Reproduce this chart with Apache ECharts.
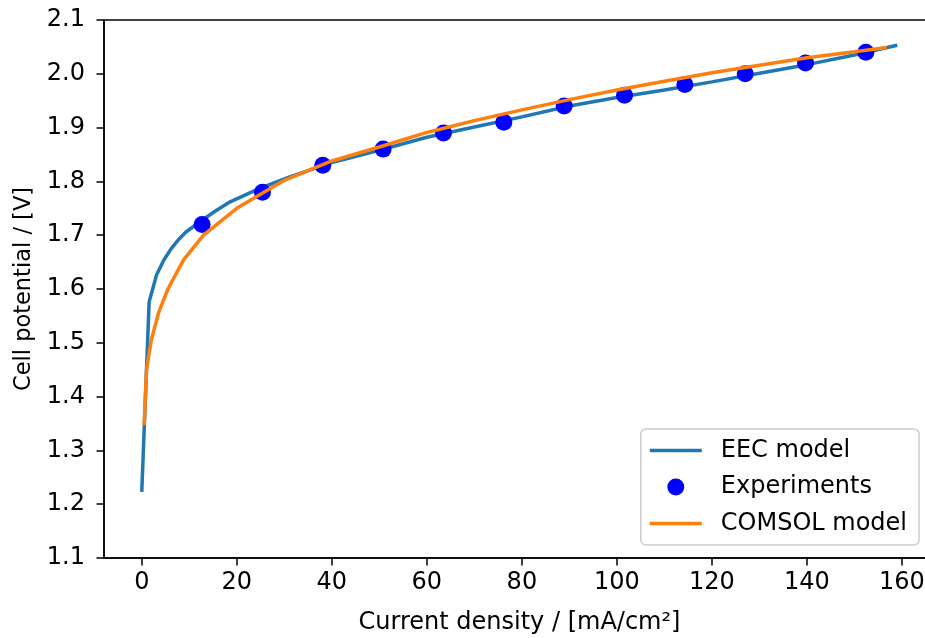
<!DOCTYPE html>
<html>
<head>
<meta charset="utf-8">
<script src="https://cdn.jsdelivr.net/npm/echarts@6/dist/echarts.min.js"></script>
<style>
html,body{margin:0;padding:0;background:#fff;}
#chart{width:925px;height:638px;}
</style>
</head>
<body>
<div id="chart"></div>
<script>
// EEC model curve
var eecX = [0, 1.55, 3.1, 4.65, 6.2, 7.75, 9.3, 12.4, 15.5, 18.6, 24.8, 31, 40, 50, 60, 70, 80, 90, 100, 110, 120, 130, 140, 150, 159];
var eecY = [1.223, 1.576, 1.626, 1.654, 1.675, 1.692, 1.706, 1.726, 1.745, 1.762, 1.787, 1.808, 1.835, 1.858, 1.882, 1.901, 1.920, 1.940, 1.956, 1.970, 1.985, 2.001, 2.017, 2.035, 2.053];
// Experiments
var expX = [12.7, 25.4, 38.1, 50.8, 63.5, 76.2, 88.9, 101.6, 114.3, 127, 139.7, 152.4];
var expY = [1.72, 1.78, 1.83, 1.86, 1.89, 1.91, 1.94, 1.96, 1.98, 2.00, 2.02, 2.04];
// COMSOL model curve
var comsolX = [0.5, 1.0, 2, 3.5, 5.5, 8.8, 13, 20, 30, 40, 50, 60, 70, 80, 90, 100, 110, 120, 130, 140, 150, 156.8];
var comsolY = [1.347, 1.45, 1.505, 1.555, 1.600, 1.654, 1.700, 1.750, 1.802, 1.838, 1.864, 1.891, 1.913, 1.933, 1.952, 1.970, 1.986, 2.002, 2.016, 2.030, 2.041, 2.049];
// tick labels
var xTicks = [0, 20, 40, 60, 80, 100, 120, 140, 160];
var yTicks = [1.1, 1.2, 1.3, 1.4, 1.5, 1.6, 1.7, 1.8, 1.9, 2.0, 2.1];

function pairs(xs, ys) { return xs.map(function (x, i) { return [x, ys[i]]; }); }

var FONT = 'DejaVu Sans';
var LINE_ICON = 'path://M0,0 L52,0 L52,3.5 L0,3.5 Z';
var chart = echarts.init(document.getElementById('chart'), null, {renderer: 'canvas'});
chart.setOption({
  animation: false,
  backgroundColor: '#ffffff',
  grid: {
    left: 104, top: 20, width: 831, height: 538,
    outerBoundsMode: 'none', containLabel: false,
    show: true, borderColor: '#000', borderWidth: 1.5, backgroundColor: 'transparent'
  },
  xAxis: {
    type: 'value', min: -7.95, max: 166.95,
    name: 'Current density / [mA/cm²]', nameLocation: 'middle', nameGap: 53,
    nameTextStyle: {fontFamily: FONT, fontSize: 24, color: '#000'},
    axisLine: {show: true, onZero: false, lineStyle: {color: '#000', width: 1.5}},
    axisTick: {show: true, length: 7.5, lineStyle: {color: '#000', width: 1.5}, customValues: xTicks},
    axisLabel: {fontFamily: FONT, fontSize: 24, color: '#000', margin: 13, customValues: xTicks,
      formatter: function (v) { return String(Math.round(v)); }},
    splitLine: {show: false}
  },
  yAxis: {
    type: 'value', min: 1.1, max: 2.1,
    name: 'Cell potential / [V]', nameLocation: 'middle', nameGap: 68,
    nameTextStyle: {fontFamily: FONT, fontSize: 22.5, color: '#000'},
    axisLine: {show: true, onZero: false, lineStyle: {color: '#000', width: 1.5}},
    axisTick: {show: true, length: 7.5, lineStyle: {color: '#000', width: 1.5}, customValues: yTicks},
    axisLabel: {fontFamily: FONT, fontSize: 24, color: '#000', margin: 19, customValues: yTicks,
      formatter: function (v) { return v.toFixed(1); }},
    splitLine: {show: false}
  },
  legend: {
    orient: 'vertical', right: 6, bottom: 93,
    data: [
      {name: 'EEC model', icon: LINE_ICON},
      {name: 'Experiments', icon: 'circle'},
      {name: 'COMSOL model', icon: LINE_ICON}
    ],
    itemWidth: 52, itemHeight: 17, itemGap: 12.5,
    padding: [9.5, 12, 9.5, 9],
    backgroundColor: 'rgba(255,255,255,0.8)',
    borderColor: '#cccccc', borderWidth: 1.5, borderRadius: 5,
    textStyle: {fontFamily: FONT, fontSize: 24, color: '#000', lineHeight: 24, padding: [0, 0, 0, 14]}
  },
  series: [
    {
      name: 'EEC model', type: 'line', data: pairs(eecX, eecY), z: 2,
      symbol: 'none', smooth: false,
      lineStyle: {color: '#1f77b4', width: 3.5}, itemStyle: {color: '#1f77b4'}
    },
    {
      name: 'Experiments', type: 'scatter', data: pairs(expX, expY), z: 3,
      symbol: 'circle', symbolSize: 17, itemStyle: {color: '#0000ff', opacity: 1}
    },
    {
      name: 'COMSOL model', type: 'line', data: pairs(comsolX, comsolY), z: 4,
      symbol: 'none', smooth: false,
      lineStyle: {color: '#ff7f0e', width: 3.5}, itemStyle: {color: '#ff7f0e'}
    }
  ]
});
</script>
</body>
</html>
